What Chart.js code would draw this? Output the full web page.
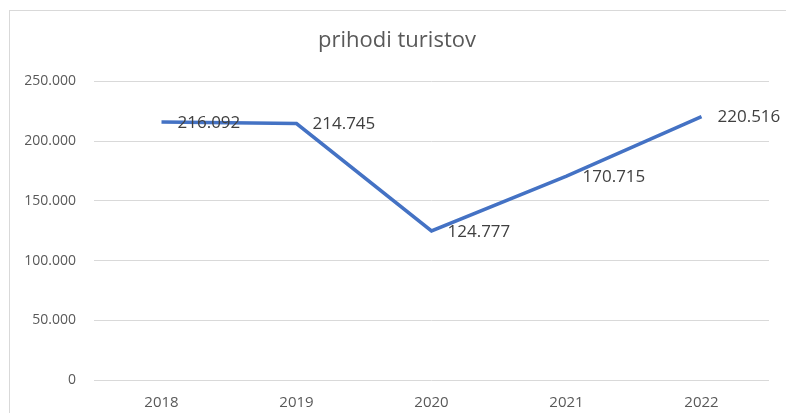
<!DOCTYPE html>
<html>
<head>
<meta charset="utf-8">
<script src="https://cdn.jsdelivr.net/npm/chart.js@4"></script>
<style>
  html, body { margin: 0; padding: 0; background: #fff; overflow: hidden; }
  #wrap { position: relative; width: 786px; height: 413px; }
  #frame { position: absolute; left: 9px; top: 10px; width: 800px; height: 420px; border: 1px solid #d9d9d9; box-sizing: border-box; }
  canvas { position: absolute; left: 0; top: 0; }
</style>
</head>
<body>
<div id="wrap">
  <div id="frame"></div>
  <canvas id="myChart" width="786" height="413"></canvas>
</div>
<script>
const years = ['2018', '2019', '2020', '2021', '2022'];
const arrivals = [216092, 214745, 124777, 170715, 220516];
const yTicks = [0, 50000, 100000, 150000, 200000, 250000];

function fmt(v) {
    return String(v).replace(/\B(?=(\d{3})+(?!\d))/g, '.');
}

const valueLabels = {
    id: 'valueLabels',
    afterDatasetsDraw(chart) {
        const c = chart.ctx;
        const meta = chart.getDatasetMeta(0);
        c.save();
        c.font = '17px "Open Sans"';
        c.fillStyle = '#404040';
        c.textAlign = 'left';
        c.textBaseline = 'middle';
        meta.data.forEach(function (pt, i) {
            c.fillText(fmt(arrivals[i]), pt.x + 16, pt.y + 1);
        });
        c.restore();
    }
};

const ctx = document.getElementById('myChart').getContext('2d');

new Chart(ctx, {
    type: 'line',
    data: {
        labels: years,
        datasets: [{
            label: 'prihodi turistov',
            data: arrivals,
            borderColor: '#4472c4',
            borderWidth: 3.5,
            pointRadius: 0,
            tension: 0,
            fill: false
        }]
    },
    options: {
        responsive: false,
        animation: false,
        layout: {
            padding: { left: 25, right: 17, top: 10, bottom: 0 }
        },
        scales: {
            x: {
                offset: true,
                grid: { display: false, drawTicks: false },
                border: { display: false },
                ticks: {
                    color: '#595959',
                    font: { family: 'Open Sans', size: 15 },
                    padding: 14
                },
                afterFit: function (scale) { scale.height = 33; }
            },
            y: {
                min: 0,
                max: 250000,
                afterBuildTicks: function (scale) {
                    scale.ticks = yTicks.map(v => ({ value: v }));
                },
                grid: { color: '#d9d9d9', drawTicks: false },
                border: { display: false },
                ticks: {
                    color: '#595959',
                    font: { family: 'Open Sans', size: 14 },
                    padding: 18,
                    callback: function (v) { return fmt(v); }
                },
                afterFit: function (scale) { scale.width = 69; }
            }
        },
        plugins: {
            legend: { display: false },
            tooltip: { enabled: false },
            title: {
                display: true,
                text: 'prihodi turistov',
                color: '#595959',
                font: { family: 'Open Sans', size: 22, weight: 'normal' },
                padding: { top: 18, bottom: 27 }
            }
        }
    },
    plugins: [valueLabels]
});
</script>
</body>
</html>
